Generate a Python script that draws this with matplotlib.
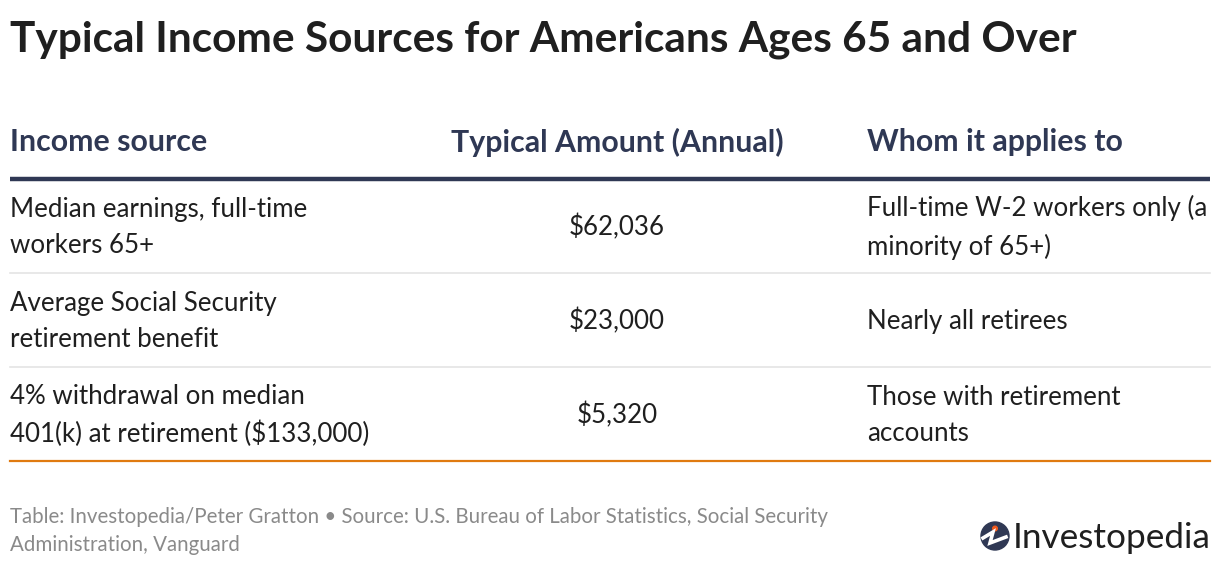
import matplotlib.pyplot as plt
from matplotlib.patches import Circle

title = "Typical Income Sources for Americans Ages 65 and Over"
headers = ["Income source", "Typical Amount (Annual)", "Whom it applies to"]
sources = ["Median earnings, full-time\nworkers 65+",
           "Average Social Security\nretirement benefit",
           "4% withdrawal on median\n401(k) at retirement ($133,000)"]
amounts = [62036, 23000, 5320]
applies = ["Full-time W-2 workers only (a\nminority of 65+)",
           "Nearly all retirees",
           "Those with retirement\naccounts"]
footer = ("Table: Investopedia/Peter Gratton \u2022 Source: U.S. Bureau of Labor Statistics, Social Security\n"
          "Administration, Vanguard")

W, H = 1220, 568
navy = "#2f3854"
text_c = "#1f1f1f"

plt.rcParams['font.family'] = ['Lato', 'DejaVu Sans']

fig = plt.figure(figsize=(W / 100, H / 100), dpi=100)
ax = fig.add_axes([0, 0, 1, 1])
ax.set_xlim(0, W)
ax.set_ylim(H, 0)
ax.axis('off')

ax.text(10, 40, title, fontsize=30.5, fontweight='bold', color=text_c, va='center', ha='left')

# header row
col_x = [10, 617, 867]
col_ha = ['left', 'center', 'left']
for x, ha, h in zip(col_x, col_ha, headers):
    ax.text(x, 142, h, fontsize=21.8, fontweight='bold', color=navy, va='center', ha=ha)
ax.plot([10, 1210], [179, 179], color=navy, lw=3.2, solid_capstyle='butt')

row_top = 179
row_h = 94
for i, (s, a, w) in enumerate(zip(sources, amounts, applies)):
    yc = row_top + row_h * i + row_h / 2 + 1.5
    ax.text(col_x[0], yc, s, fontsize=18.6, color=text_c, va='center', ha='left', linespacing=1.58)
    ax.text(col_x[1], yc, f"${a:,}", fontsize=18.6, color=text_c, va='center', ha='center')
    ax.text(col_x[2], yc, w, fontsize=18.6, color=text_c, va='center', ha='left', linespacing=1.58)
    yb = row_top + row_h * (i + 1)
    if i < len(sources) - 1:
        ax.plot([10, 1210], [yb, yb], color="#e4e4e4", lw=1.2)
    else:
        ax.plot([10, 1210], [yb, yb], color="#e07a10", lw=1.6)

ax.text(10, 531, footer, fontsize=14.8, color="#8a8a8a", va='center', ha='left', linespacing=1.45)

# logo
ax.add_patch(Circle((995, 536), 14, color=navy))
ax.plot([983, 993, 990, 1006], [538, 532, 543, 537], color='white', lw=2.6, solid_joinstyle='miter')
ax.add_patch(Circle((995, 528.5), 2.3, color="#f05a1e"))
ax.text(1013, 538, "Investopedia", fontsize=25.3, color=text_c, va='center', ha='left')

fig.savefig("out.png", dpi=100)
